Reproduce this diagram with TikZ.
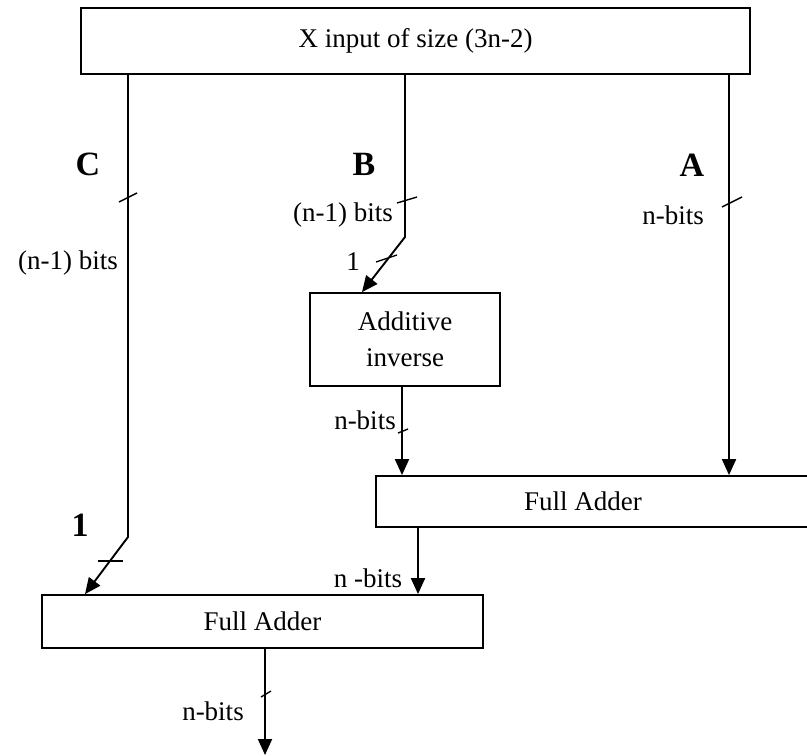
\documentclass[tikz,border=0pt]{standalone}
\usepackage{fontspec}
\setmainfont{Liberation Serif}
\usetikzlibrary{arrows.meta}

\begin{document}
\begin{tikzpicture}[x=0.5pt, y=-0.5pt,
    every node/.style={font=\fontsize{13.5}{16}\selectfont},
    box/.style={draw, line width=0.9pt, rectangle, inner sep=0pt},
    wire/.style={line width=0.95pt},
    arr/.style={wire, -{Triangle[length=8pt, width=7pt]}},
    tick/.style={line width=0.7pt},
    lbl/.style={inner sep=0pt},
    bold/.style={inner sep=0pt, font=\fontsize{17}{20}\selectfont\bfseries}]
  \useasboundingbox (0,0) rectangle (807,755);

  % blocks
  \node[box, minimum width=334.5pt, minimum height=33pt] (top) at (415.5,41) {X input of size (3n-2)};
  \node[box, minimum width=95pt, minimum height=46.5pt, align=center] (inv) at (405,339.5) {Additive\\[2pt]inverse};
  \node[box, minimum width=227pt, minimum height=25.5pt] (rfa) at (603,501.5) {};
  \node[lbl] (rfat) at (583,501.5) {Full Adder};
  \node[box, minimum width=220.5pt, minimum height=26.5pt] (lfa) at (262.5,621.5) {Full Adder};

  % routing points
  \coordinate (cBend) at (128,537);
  \coordinate (cTip) at (85,0);
  \coordinate (bBend) at (405,237);
  \coordinate (bTip) at (362,0);
  \coordinate (aX) at (729,0);
  \coordinate (invX) at (402,0);
  \coordinate (rfaX) at (418,0);
  \coordinate (outX) at (265,0);
  \coordinate (outEnd) at (265,755);

  % C path
  \draw[arr] (top.south -| cBend) -- (cBend) -- (lfa.north -| cTip);
  % B path
  \draw[arr] (top.south -| bBend) -- (bBend) -- (inv.north -| bTip);
  % A path
  \draw[arr] (top.south -| aX) -- (rfa.north -| aX);
  % inverse to right adder
  \draw[arr] (inv.south -| invX) -- (rfa.north -| invX);
  % right adder to left adder
  \draw[arr] (rfa.south -| rfaX) -- (lfa.north -| rfaX);
  % output
  \draw[arr] (lfa.south -| outX) -- (outEnd);

  % bus width ticks
  \draw[tick] (119,202) -- (137,193);
  \draw[tick] (397,203) -- (417,197);
  \draw[tick] (376,262) -- (397,255);
  \draw[tick] (722,207) -- (742,197);
  \draw[tick] (398,433) -- (408,429);
  \draw[tick] (98,561) -- (123,561);
  \draw[tick] (261,697) -- (271,691);

  % labels
  \node[bold] (lC) at (88,164) {C};
  \node[bold] (lB) at (364,164) {B};
  \node[bold] (lA) at (692,165) {A};
  \node[bold] (l1) at (80,525) {1};
  \node[lbl] (lc1) at (68,263) {(n-1) bits};
  \node[lbl] (lb1) at (343,215) {(n-1) bits};
  \node[lbl] (lb2) at (353,262) {1};
  \node[lbl] (la1) at (673,215) {n-bits};
  \node[lbl] (li1) at (365,420) {n-bits};
  \node[lbl] (lr1) at (368,578) {n -bits};
  \node[lbl] (lo1) at (213,711) {n-bits};
\end{tikzpicture}
\end{document}
